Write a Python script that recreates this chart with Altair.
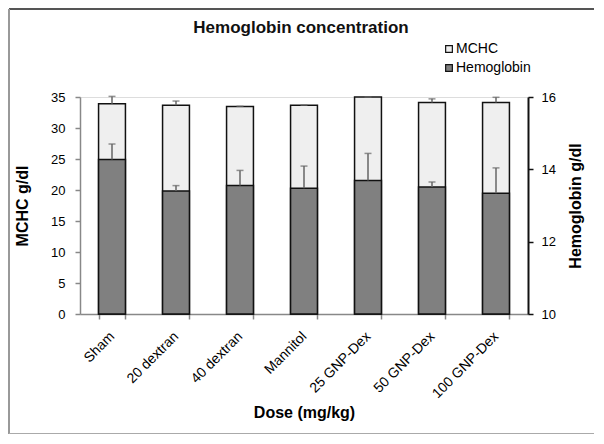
import altair as alt
import pandas as pd

doses = ["Sham", "20 dextran", "40 dextran", "Mannitol", "25 GNP-Dex", "50 GNP-Dex", "100 GNP-Dex"]
mchc = [33.9, 33.65, 33.45, 33.65, 35.0, 34.1, 34.1]
mchc_err = [1.2, 0.7, 0.05, 0.03, 0.0, 0.6, 0.85]
hb = [14.27, 13.40, 13.55, 13.48, 13.69, 13.51, 13.34]
hb_err = [0.43, 0.15, 0.42, 0.61, 0.75, 0.14, 0.70]

series = ["MCHC", "Hemoglobin"]
series_colors = ["#efefef", "#808080"]
chart_title = "Hemoglobin concentration"

df = pd.DataFrame({
    "Dose": doses,
    "MCHC": mchc,
    "MCHC_hi": [m + e for m, e in zip(mchc, mchc_err)],
    "Hb": hb,
    "Hb_hi": [h + e for h, e in zip(hb, hb_err)],
})

FONT = "Liberation Sans"
W, H = 448, 217

x_axis = alt.Axis(
    title="Dose (mg/kg)", labelAngle=-45, labelAlign="right", labelBaseline="middle",
    labelFontSize=14, labelPadding=15, tickBand="extent", tickSize=5,
    titleFontSize=16, titlePadding=4, domainWidth=1.5, tickWidth=1.5,
)
x_enc = alt.X("Dose:N", sort=doses,
              scale=alt.Scale(paddingInner=0.58, paddingOuter=0.29), axis=x_axis)

color_enc = alt.Color(
    "series:N",
    scale=alt.Scale(domain=series, range=series_colors),
    legend=alt.Legend(
        title=None, orient="none", legendX=362, legendY=-55, symbolType="square",
        symbolSize=45, symbolStrokeColor="#111", symbolStrokeWidth=1.2,
        labelFontSize=14, labelOffset=0, rowPadding=5, labelFont=FONT,
    ),
)

base = alt.Chart(df)

mchc_scale = alt.Scale(domain=[0, 35], nice=False)
mchc_axis = alt.Axis(
    title="MCHC g/dl", orient="left", values=list(range(0, 36, 5)), tickSize=5,
    labelFontSize=13, labelPadding=10, titleFontSize=16, titlePadding=20,
    grid=False, domainWidth=1.5, tickWidth=1.5,
)
mchc_bar = base.transform_calculate(series="'MCHC'").mark_bar(
    stroke="#111", strokeWidth=1.5
).encode(
    x=x_enc,
    y=alt.Y("MCHC:Q", scale=mchc_scale, axis=mchc_axis),
    color=color_enc,
)
mchc_rule = base.mark_rule(color="#666", strokeWidth=1.5).encode(
    x=x_enc,
    y=alt.Y("MCHC:Q", scale=mchc_scale, axis=mchc_axis),
    y2="MCHC_hi:Q",
)
mchc_cap = base.mark_tick(color="#666", size=7, thickness=1.5, orient="horizontal").encode(
    x=x_enc,
    y=alt.Y("MCHC_hi:Q", scale=mchc_scale, axis=mchc_axis),
)
left = alt.layer(mchc_bar, mchc_rule, mchc_cap)

hb_scale = alt.Scale(domain=[10, 16], nice=False, zero=False)
hb_axis = alt.Axis(
    title="Hemoglobin g/dl", orient="right", values=[10, 12, 14, 16], tickSize=5,
    labelFontSize=13, labelPadding=8, titleFontSize=16, titlePadding=12,
    titleAngle=270, titleBaseline="top", grid=False, domainWidth=2, tickWidth=1.5,
    domainColor="#111", tickColor="#111",
)
hb_bar = base.transform_calculate(series="'Hemoglobin'").mark_bar(
    stroke="#111", strokeWidth=1.5
).encode(
    x=x_enc,
    y=alt.Y("Hb:Q", scale=hb_scale, axis=hb_axis),
    y2=alt.datum(10),
    color=color_enc,
)
hb_rule = base.mark_rule(color="#666", strokeWidth=1.5).encode(
    x=x_enc,
    y=alt.Y("Hb:Q", scale=hb_scale, axis=hb_axis),
    y2="Hb_hi:Q",
)
hb_cap = base.mark_tick(color="#666", size=7, thickness=1.5, orient="horizontal").encode(
    x=x_enc,
    y=alt.Y("Hb_hi:Q", scale=hb_scale, axis=hb_axis),
)
right = alt.layer(hb_bar, hb_rule, hb_cap)

one = alt.Chart(pd.DataFrame({"t": [chart_title]}))
title_text = one.mark_text(font=FONT, fontSize=17, fontWeight="bold", color="#111",
                           align="center", baseline="middle").encode(
    text="t:N", x=alt.value(221), y=alt.value(-69))
top_line = one.mark_rule(color="#555", strokeWidth=2).encode(
    x=alt.value(-71), x2=alt.value(515), y=alt.value(-88))
left_line = one.mark_rule(color="#999", strokeWidth=2).encode(
    x=alt.value(-71), y=alt.value(-88), y2=alt.value(337))
bottom_line = one.mark_rule(color="#aaa", strokeWidth=2).encode(
    x=alt.value(-71), x2=alt.value(516), y=alt.value(337))

chart = alt.layer(left, right, title_text, top_line, left_line, bottom_line).resolve_scale(
    y="independent"
).properties(
    width=W, height=H,
    autosize=alt.AutoSizeParams(type="none"),
    padding={"left": 72, "top": 89, "right": 66, "bottom": 120},
).configure_view(stroke=None).configure_axis(
    labelFont=FONT, titleFont=FONT, labelColor="#333", titleColor="#111",
    domainColor="#222", tickColor="#222", titleFontWeight="bold",
).configure(background="white")

chart.save("out.html", embed_options={"renderer": "svg", "actions": False})
